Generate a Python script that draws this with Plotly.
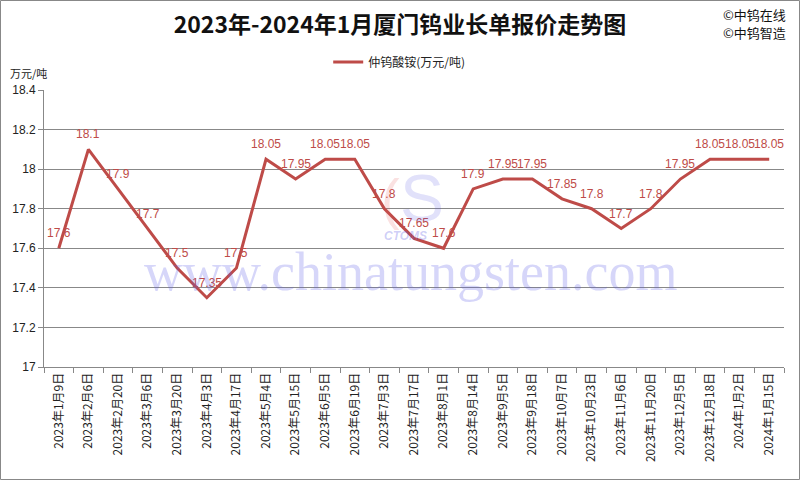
import plotly.graph_objects as go

dates = ["2023年1月9日", "2023年2月6日", "2023年2月20日", "2023年3月6日", "2023年3月20日",
         "2023年4月3日", "2023年4月17日", "2023年5月4日", "2023年5月15日", "2023年6月5日",
         "2023年6月19日", "2023年7月3日", "2023年7月17日", "2023年8月1日", "2023年8月14日",
         "2023年9月5日", "2023年9月18日", "2023年10月7日", "2023年10月23日", "2023年11月6日",
         "2023年11月20日", "2023年12月5日", "2023年12月18日", "2024年1月2日", "2024年1月15日"]
apt = [17.6, 18.1, 17.9, 17.7, 17.5, 17.35, 17.5, 18.05, 17.95, 18.05,
       18.05, 17.8, 17.65, 17.6, 17.9, 17.95, 17.95, 17.85, 17.8, 17.7,
       17.8, 17.95, 18.05, 18.05, 18.05]
series_name = "仲钨酸铵(万元/吨)"
y_ticks = [17, 17.2, 17.4, 17.6, 17.8, 18, 18.2, 18.4]

RED = "#BE4B48"
W, H = 800, 480
ML, MR, MT, MB = 44, 16, 90, 113
pw, ph = W - ML - MR, H - MT - MB

fig = go.Figure()
fig.add_trace(go.Scatter(
    x=dates, y=apt, mode="lines", name=series_name,
    line=dict(color=RED, width=3),
))

# data labels
for d, v in zip(dates, apt):
    fig.add_annotation(x=d, y=v, text=f"{v:g}", showarrow=False, yshift=15,
                       font=dict(color=RED, size=12, family="Liberation Sans, Arial"))

fig.update_layout(
    width=W, height=H,
    margin=dict(l=ML, r=MR, t=MT, b=MB, autoexpand=False),
    paper_bgcolor="white", plot_bgcolor="white",
    font=dict(family="Liberation Sans, Arial", color="#222", size=12),
    showlegend=True,
    legend=dict(orientation="h", x=0.48, xanchor="center", y=1 + (MT - 62) / ph, yanchor="middle",
                font=dict(family="Noto Sans CJK SC", size=12, color="#222"), itemwidth=30),
    title=dict(text="<b>2023年-2024年1月厦门钨业长单报价走势图</b>", x=0.5, xanchor="center",
               y=1 - 25 / H, yanchor="middle",
               font=dict(family="Noto Sans CJK SC", size=23, color="#111")),
    xaxis=dict(type="category", range=[-0.5, len(dates) - 0.5], tickangle=-90,
               tickson="boundaries", ticks="outside", ticklen=5, tickcolor="#888",
               showline=True, linecolor="#888", showgrid=False, automargin=False,
               tickfont=dict(size=12, family="Noto Sans CJK SC")),
    yaxis=dict(range=[17, 18.4], tickvals=y_ticks, ticktext=[f"{v:g}" for v in y_ticks],
               ticks="outside", ticklen=5, tickcolor="#888", automargin=False,
               showline=True, linecolor="#888", showgrid=True, gridcolor="#888", gridwidth=1,
               zeroline=False, tickfont=dict(size=12)),
)

# watermark
fig.add_annotation(text="www.chinatungsten.com", xref="paper", yref="paper",
                   x=(410 - ML) / pw, y=(H - MB - 272) / ph, showarrow=False,
                   font=dict(family="Liberation Serif, Times New Roman", size=54,
                             color="rgba(90,90,230,0.25)"))
fig.add_annotation(text="<i><b>CTOMS</b></i>", xref="paper", yref="paper",
                   x=(405 - ML) / pw, y=(H - MB - 236) / ph, showarrow=False,
                   font=dict(family="Liberation Sans", size=12, color="rgba(90,90,230,0.3)"))
fig.add_annotation(text="S", xref="paper", yref="paper",
                   x=(422 - ML) / pw, y=(H - MB - 198) / ph, showarrow=False,
                   font=dict(family="Liberation Sans", size=66, color="rgba(90,90,230,0.18)"))
fig.add_annotation(text="(", xref="paper", yref="paper",
                   x=(390 - ML) / pw, y=(H - MB - 198) / ph, showarrow=False,
                   font=dict(family="Liberation Sans", size=56, color="rgba(230,90,90,0.18)"))

# unit label
fig.add_annotation(text="万元/吨", xref="paper", yref="paper",
                   x=-(ML - 8) / pw, xanchor="left", y=1 + (MT - 73) / ph, yanchor="middle",
                   showarrow=False, font=dict(family="Noto Sans CJK SC", size=11, color="#222"))
# copyright
for txt, yy in [("©中钨在线", 15), ("©中钨智造", 33)]:
    fig.add_annotation(text=txt, xref="paper", yref="paper",
                       x=1 + (MR - 12) / pw, xanchor="right", y=1 + (MT - yy) / ph, yanchor="middle",
                       showarrow=False, font=dict(family="Noto Sans CJK SC", size=13, color="#111"))

# outer border
fig.add_shape(type="rect", xref="paper", yref="paper",
              x0=-(ML - 0.5) / pw, x1=1 + (MR - 0.5) / pw,
              y0=-(MB - 0.5) / ph, y1=1 + (MT - 0.5) / ph,
              line=dict(color="#888", width=1), layer="below")

fig.write_html("out.html", config={"displayModeBar": False},
               post_script="document.body.style.margin='0';document.body.style.padding='0';")
